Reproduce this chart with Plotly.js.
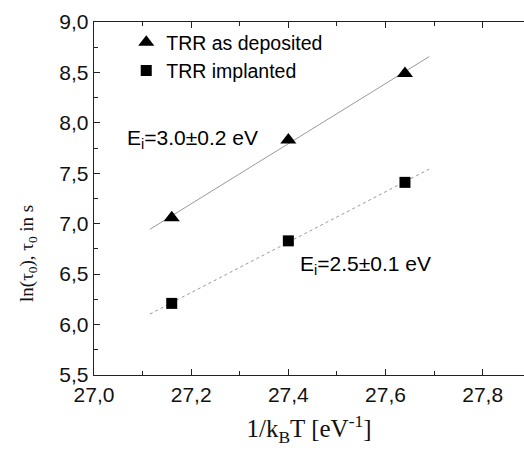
<!DOCTYPE html>
<html>
<head>
<meta charset="utf-8">
<script src="https://cdn.plot.ly/plotly-3.0.1.min.js"></script>
<style>html,body{margin:0;padding:0;overflow:hidden;background:#fff;}</style>
</head>
<body>
<div id="chart" style="width:524px;height:458px;"></div>
<script>
// Data
const invKT = [27.16, 27.40, 27.64];
const lnTauDeposited = [7.06, 7.83, 8.49];
const lnTauImplanted = [6.21, 6.83, 7.41];
const seriesNames = ['TRR as deposited', 'TRR implanted'];
const fitRange = [27.115, 27.69];
const fitLabels = ['E<sub>i</sub>=3.0±0.2 eV', 'E<sub>i</sub>=2.5±0.1 eV'];
const xTickVals = [27.0, 27.2, 27.4, 27.6, 27.8];

function linfit(x, y) {
  const n = x.length;
  const mx = x.reduce((a, b) => a + b, 0) / n;
  const my = y.reduce((a, b) => a + b, 0) / n;
  let sxy = 0, sxx = 0;
  for (let i = 0; i < n; i++) { sxy += (x[i] - mx) * (y[i] - my); sxx += (x[i] - mx) ** 2; }
  const b = sxy / sxx;
  return xx => my + b * (xx - mx);
}
const f1 = linfit(invKT, lnTauDeposited);
const f2 = linfit(invKT, lnTauImplanted);

const traces = [
  {x: fitRange, y: fitRange.map(f1), mode: 'lines', showlegend: false, hoverinfo: 'skip',
   line: {color: '#999', width: 1}},
  {x: fitRange, y: fitRange.map(f2), mode: 'lines', showlegend: false, hoverinfo: 'skip',
   line: {color: '#999', width: 1, dash: '3px,3px'}},
  {x: invKT, y: lnTauDeposited, mode: 'markers', name: seriesNames[0],
   marker: {symbol: 'triangle-up', size: 14, color: '#000'}},
  {x: invKT, y: lnTauImplanted, mode: 'markers', name: seriesNames[1],
   marker: {symbol: 'square', size: 11, color: '#000'}}
];

const sans = 'Liberation Sans, Arial, sans-serif';
const serif = 'Liberation Serif, Times New Roman, serif';
const tickFont = {family: sans, size: 21, color: '#111'};
const layout = {
  width: 524, height: 458,
  margin: {l: 94, r: 0, t: 22, b: 83},
  paper_bgcolor: '#fff', plot_bgcolor: '#fff',
  separators: ',.',
  showlegend: true,
  legend: {x: 0.075, y: 0.997, xanchor: 'left', yanchor: 'top', bgcolor: 'rgba(0,0,0,0)',
           font: {family: sans, size: 19.5, color: '#000'},
           itemwidth: 30, tracegroupgap: 0},
  xaxis: {
    range: [27.0, 27.885], tickvals: xTickVals, tickformat: '.1f',
    ticks: 'inside', ticklen: 6, tickwidth: 1, tickcolor: '#222',
    minor: {dtick: 0.1, tick0: 27.0, ticks: 'inside', ticklen: 4, tickcolor: '#222', showgrid: false},
    showline: true, linecolor: '#222', linewidth: 1.3, mirror: 'ticks', showgrid: false, zeroline: false,
    tickfont: tickFont,
    title: {text: '1/k<sub>B</sub>T [eV<sup>-1</sup>]', standoff: 15,
            font: {family: serif, size: 25, color: '#111'}}
  },
  yaxis: {
    range: [5.5, 9.0], dtick: 0.5, tick0: 5.5, tickformat: '.1f',
    ticks: 'inside', ticklen: 6, tickwidth: 1, tickcolor: '#222',
    minor: {dtick: 0.25, tick0: 5.5, ticks: 'inside', ticklen: 4, tickcolor: '#222', showgrid: false},
    showline: true, linecolor: '#222', linewidth: 1.3, mirror: false, showgrid: false, zeroline: false,
    tickfont: tickFont
  },
  annotations: [
    {x: 27.064, y: 7.84, xref: 'x', yref: 'y', xanchor: 'left', yanchor: 'middle', showarrow: false,
     text: fitLabels[0], font: {family: sans, size: 21, color: '#000'}},
    {x: 27.42, y: 6.59, xref: 'x', yref: 'y', xanchor: 'left', yanchor: 'middle', showarrow: false,
     text: fitLabels[1], font: {family: sans, size: 21, color: '#000'}},
    {x: 0, y: 6.70, xref: 'paper', yref: 'y', xshift: -66, xanchor: 'center', yanchor: 'middle',
     showarrow: false, textangle: -90,
     text: 'ln(τ<sub>0</sub>), τ<sub>0</sub> in s', font: {family: serif, size: 19, color: '#111'}}
  ]
};
Plotly.newPlot('chart', traces, layout, {displayModeBar: false, staticPlot: true});
</script>
</body>
</html>
